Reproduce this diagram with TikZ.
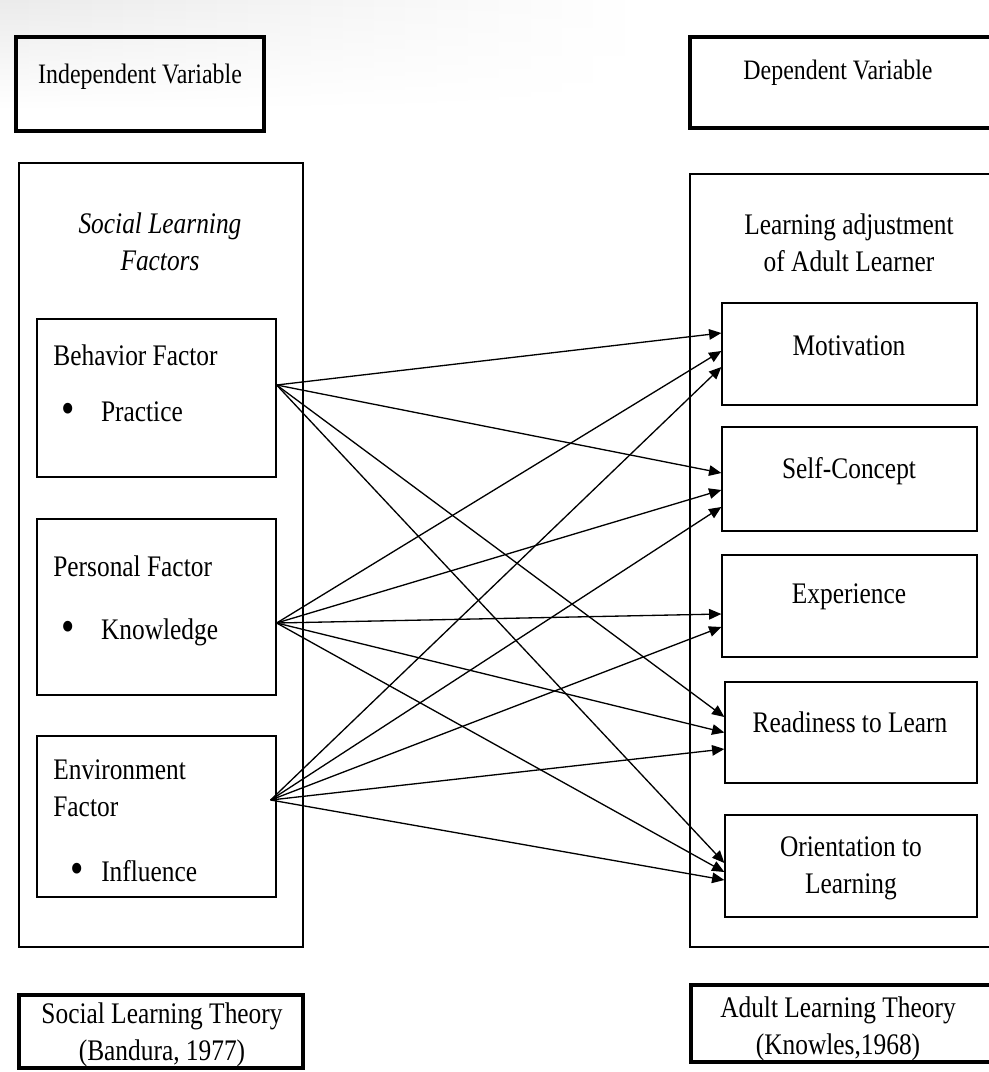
\documentclass[tikz,border=0pt]{standalone}
\usepackage{fontspec}
\setmainfont{Liberation Serif}[FakeStretch=0.85]
\usetikzlibrary{arrows.meta,fadings}

\newcommand{\bigdot}{\raisebox{-1.2pt}{\scalebox{1.5}{\textbullet}}}

\begin{document}
\begin{tikzpicture}[x=0.02cm, y=-0.02cm,
    every node/.style={inner sep=0pt, font=\fontsize{17}{21}\selectfont},
    heavybox/.style={draw, line width=1.8pt},
    thinbox/.style={draw, line width=0.75pt},
    link/.style={-{Triangle[length=7pt,width=6pt]}, line width=0.75pt}]
  \useasboundingbox (0,0) rectangle (989,1072);
  \shade[left color=black!8, right color=white, path fading=south] (0,0) rectangle (640,110);

  % header boxes
  \node[heavybox, minimum width=4.96cm, minimum height=1.88cm] (indep) at (140,84) {};
  \node[font=\fontsize{16}{21}\selectfont] (indepT) at (140,77) {Independent Variable};
  \node[heavybox, minimum width=6.06cm, minimum height=1.82cm] (dep) at (841.5,82.5) {};
  \node[font=\fontsize{16}{21}\selectfont] (depT) at (838,73) {Dependent Variable};

  % left frame
  \node[thinbox, minimum width=5.68cm, minimum height=15.68cm] (slf) at (161,555) {};
  \node[align=center, font=\fontsize{17}{21}\selectfont\itshape] (slfT) at (160,242) {Social Learning\\Factors};
  \node[thinbox, minimum width=4.78cm, minimum height=3.16cm] (beh) at (156.5,398) {};
  \node[anchor=west] (behT) at (53,355) {Behavior Factor};
  \node[anchor=west] (behB) at (61,413) {\bigdot\hspace{15pt}Practice};
  \node[thinbox, minimum width=4.78cm, minimum height=3.52cm] (per) at (156.5,607) {};
  \node[anchor=west] (perT) at (53,566) {Personal Factor};
  \node[anchor=west] (perB) at (61,632) {\bigdot\hspace{15pt}Knowledge};
  \node[thinbox, minimum width=4.78cm, minimum height=3.22cm] (env) at (156.5,816.5) {};
  \node[anchor=west, align=left] (envT) at (53,788) {Environment\\Factor};
  \node[anchor=west] (envB) at (70,872) {\bigdot\hspace{10pt}Influence};

  % right frame
  \node[thinbox, minimum width=6.06cm, minimum height=15.46cm] (rlo) at (841.5,560.5) {};
  \node[align=center] (rloT) at (849,243) {Learning adjustment\\of Adult Learner};
  \node[thinbox, minimum width=5.1cm, minimum height=2.04cm] (mot) at (849.5,354) {};
  \node (motT) at (849,346) {Motivation};
  \node[thinbox, minimum width=5.1cm, minimum height=2.08cm] (self) at (849.5,479) {};
  \node (selfT) at (849,471) {Self-Concept};
  \node[thinbox, minimum width=5.1cm, minimum height=2.04cm] (exp) at (849.5,606) {};
  \node (expT) at (849,597) {Experience};
  \node[thinbox, minimum width=5.04cm, minimum height=2.02cm] (rdy) at (851,732.5) {};
  \node (rdyT) at (850,722) {Readiness to Learn};
  \node[thinbox, minimum width=5.04cm, minimum height=2.04cm] (ori) at (851,866) {};
  \node[align=center] (oriT) at (851,868) {Orientation to\\Learning};

  % theories
  \node[heavybox, minimum width=5.68cm, minimum height=1.46cm] (slt) at (161,1031.5) {};
  \node[align=center] (sltT) at (162,1035) {Social Learning Theory\\(Bandura, 1977)};
  \node[heavybox, minimum width=6.04cm, minimum height=1.54cm] (alt) at (842,1023.5) {};
  \node[align=center] (altT) at (838,1029) {Adult Learning Theory\\(Knowles,1968)};

  % links
  \foreach \t/\s in {mot/0.42, self/0.12, rdy/0.31, ori/0.06}
    \draw[link] ([yshift=0.26cm]beh.east) -- ([yshift=\s cm]\t.west);
  \foreach \t/\s in {mot/0.06, self/-0.22, exp/-0.16, rdy/0, ori/-0.12}
    \draw[link] ([yshift=-0.32cm]per.east) -- ([yshift=\s cm]\t.west);
  \foreach \t/\s in {mot/-0.26, self/-0.56, exp/-0.42, rdy/-0.33, ori/-0.28}
    \draw[link] ([xshift=-0.12cm, yshift=0.33cm]env.east) -- ([yshift=\s cm]\t.west);
\end{tikzpicture}
\end{document}
